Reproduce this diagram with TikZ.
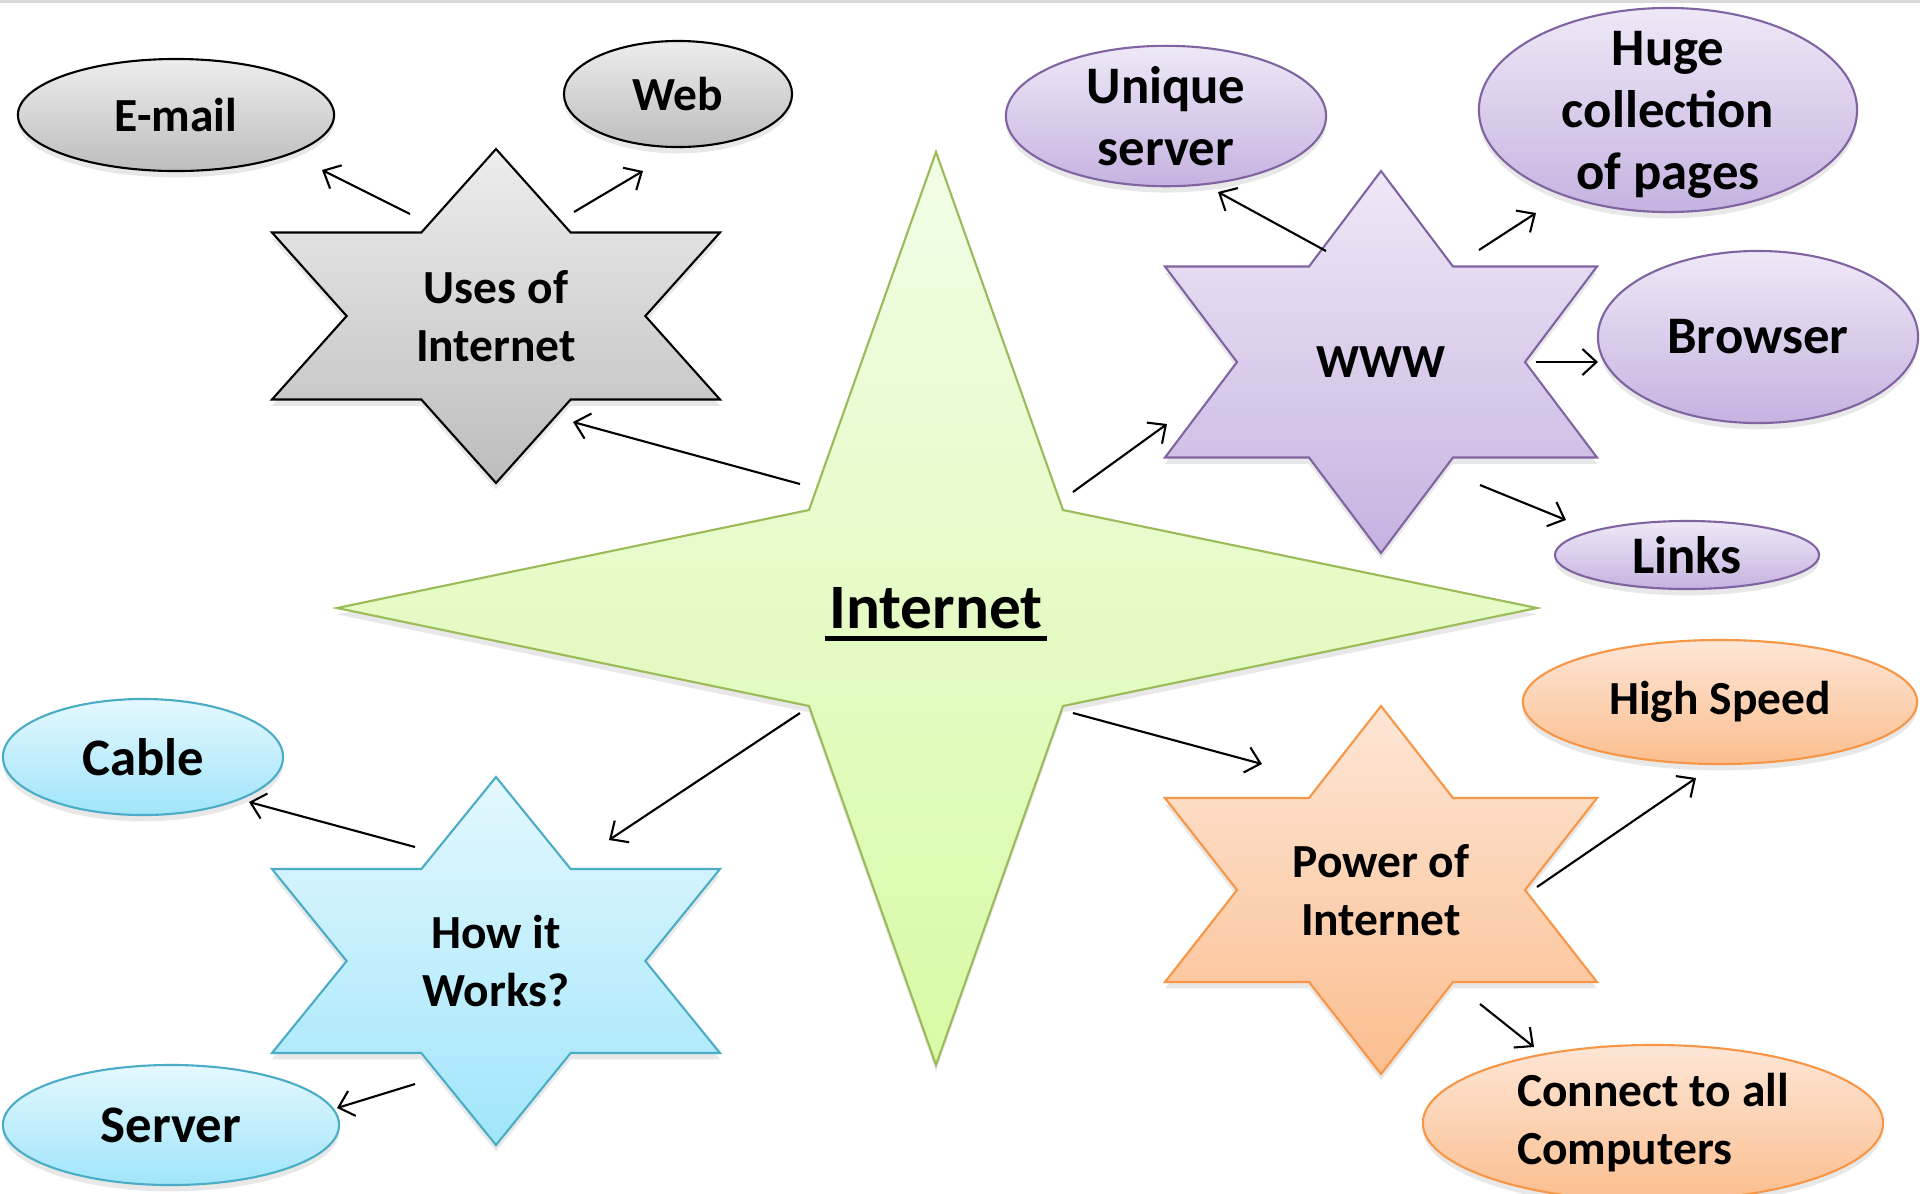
\documentclass[tikz,border=0pt]{standalone}
\usepackage{fontspec}
\setmainfont{Carlito}
\usepackage{tikz}
\usetikzlibrary{arrows.meta, calc, shapes.geometric, shadows}

\definecolor{grayline}{HTML}{000000}
\definecolor{graytop}{HTML}{EDEDED}
\definecolor{graybot}{HTML}{BDBDBD}
\definecolor{purpleline}{HTML}{8064A2}
\definecolor{purpletop}{HTML}{EFE8F7}
\definecolor{purplebot}{HTML}{C5B3E0}
\definecolor{blueline}{HTML}{4BACC6}
\definecolor{bluetop}{HTML}{E4F8FE}
\definecolor{bluebot}{HTML}{A0E5FA}
\definecolor{orangeline}{HTML}{F79646}
\definecolor{orangetop}{HTML}{FDE6D6}
\definecolor{orangebot}{HTML}{FBBE8F}
\definecolor{greenline}{HTML}{9BBB59}
\definecolor{greentop}{HTML}{F1FDE6}
\definecolor{greenbot}{HTML}{D8FAA6}
\definecolor{edgegray}{HTML}{DADADA}

% thick underline for the title
\newcommand{\thickul}[1]{\setbox0\hbox{#1}\rlap{\hspace{-1.2pt}\rule[-3.4pt]{\dimexpr\wd0+2.4pt\relax}{1.2pt}}\box0}

% six-point star: #1 look, #2 name, #3 centre, #4 half height, #5 half width, #6 text
\newcommand{\hexstar}[6]{%
  \draw[#1, shift={(#3)}] (0,-#4) -- ({#5/3},{-#4/2}) -- (#5,{-#4/2}) -- ({2*#5/3},0)
    -- (#5,{#4/2}) -- ({#5/3},{#4/2}) -- (0,#4) -- ({-#5/3},{#4/2}) -- (-#5,{#4/2})
    -- ({-2*#5/3},0) -- (-#5,{-#4/2}) -- ({-#5/3},{-#4/2}) -- cycle;
  \node[startext] (#2) at (#3) {#6};}

\begin{document}
\begin{tikzpicture}[
  x=0.01cm, y=-0.01cm,
  grayfill/.style = {draw=grayline, top color=graytop, bottom color=graybot},
  purplefill/.style = {draw=purpleline, top color=purpletop, bottom color=purplebot},
  bluefill/.style = {draw=blueline, top color=bluetop, bottom color=bluebot},
  orangefill/.style = {draw=orangeline, top color=orangetop, bottom color=orangebot},
  greenfill/.style = {draw=greenline, top color=greentop, bottom color=greenbot},
  soft/.style = {line width=0.6pt, drop shadow={opacity=0.18, shadow xshift=0pt, shadow yshift=-1.8pt}},
  bubble/.style = {ellipse, soft, inner sep=0pt, align=center, font=\bfseries\fontsize{15}{17.6}\selectfont},
  smalltext/.style = {font=\bfseries\fontsize{13.5}{16.5}\selectfont},
  startext/.style = {align=center, font=\bfseries\fontsize{13.5}{16.5}\selectfont},
  arrow/.style = {-{Straight Barb[length=1.4mm, width=2.6mm]}, line width=0.6pt}
]
\useasboundingbox (0,0) rectangle (1920,1193);
\draw[edgegray, line width=1.2pt] (0,1) -- (1920,1);

% centre star
\draw[greenfill, soft] (936,152) -- (1063,510) -- (1537,608) -- (1063,706) -- (936,1065)
  -- (809,706) -- (337,608) -- (809,510) -- cycle;
\node[font=\bfseries\fontsize{18}{22}\selectfont] (internet) at (936,614) {\thickul{Internet}};

% the four topics
\hexstar{grayfill, soft}{uses}{496,316}{167}{224}{Uses of\\Internet}
\hexstar{purplefill, soft}{www}{1381,362}{191}{216}{WWW}
\hexstar{bluefill, soft}{how}{496,961}{184}{224}{How it\\Works?}
\hexstar{orangefill, soft}{power}{1381,890}{184}{216}{Power of\\Internet}

% leaves
\node[bubble, grayfill, smalltext, minimum width=3.16cm, minimum height=1.12cm] (email) at (176,115) {E-mail};
\node[bubble, grayfill, smalltext, minimum width=2.28cm, minimum height=1.06cm] (web) at (678,94) {Web};
\node[bubble, purplefill, minimum width=3.2cm, minimum height=1.34cm] (unique) at (1166,116) {Unique\\server};
\node[bubble, purplefill, inner sep=-0.25cm, text depth=0pt, minimum width=3.78cm, minimum height=2.04cm] (huge) at (1668,110) {Huge\\collection\\of pages};
\node[bubble, purplefill, minimum width=3.2cm, minimum height=1.72cm] (browser) at (1758,337) {Browser};
\node[bubble, purplefill, minimum width=2.64cm, minimum height=0.68cm] (links) at (1687,555) {Links};
\node[bubble, orangefill, smalltext, minimum width=3.94cm, minimum height=1.24cm] (highspeed) at (1720,702) {High Speed};
\node[bubble, orangefill, smalltext, align=left, minimum width=4.6cm, minimum height=1.56cm] (connect) at (1653,1123) {Connect to all\\Computers};
\node[bubble, bluefill, minimum width=2.8cm, minimum height=1.16cm] (cable) at (143,757) {Cable};
\node[bubble, bluefill, minimum width=3.36cm, minimum height=1.2cm] (server) at (171,1125) {Server};

% arrows
\draw[arrow] ($(internet)+(-136,-130)$) -- ($(uses)+(77,106)$);
\draw[arrow] ($(internet)+(137,-122)$) -- ($(www)+(-214,62)$);
\draw[arrow] ($(internet)+(-136,99)$) -- ($(how)+(113,-121)$);
\draw[arrow] ($(internet)+(137,99)$) -- ($(power)+(-119,-126)$);

\draw[arrow] ($(uses)+(-86,-102)$) -- ($(email)+(146,55)$);
\draw[arrow] ($(uses)+(78,-104)$) -- ($(web)+(-35,77)$);

\draw[arrow] ($(www)+(-55,-111)$) -- ($(unique)+(52,76)$);
\draw[arrow] ($(www)+(98,-112)$) -- ($(huge)+(-132,103)$);
\draw[arrow] ($(www)+(155,0)$) -- ($(browser)+(-160,25)$);
\draw[arrow] ($(www)+(99,123)$) -- ($(links)+(-121,-35)$);

\draw[arrow] ($(how)+(-81,-114)$) -- ($(cable)+(106,45)$);
\draw[arrow] ($(how)+(-81,123)$) -- ($(server)+(166,-17)$);

\draw[arrow] ($(power)+(156,-3)$) -- ($(highspeed)+(-24,76)$);
\draw[arrow] ($(power)+(99,114)$) -- ($(connect)+(-119,-76)$);

\end{tikzpicture}
\end{document}
